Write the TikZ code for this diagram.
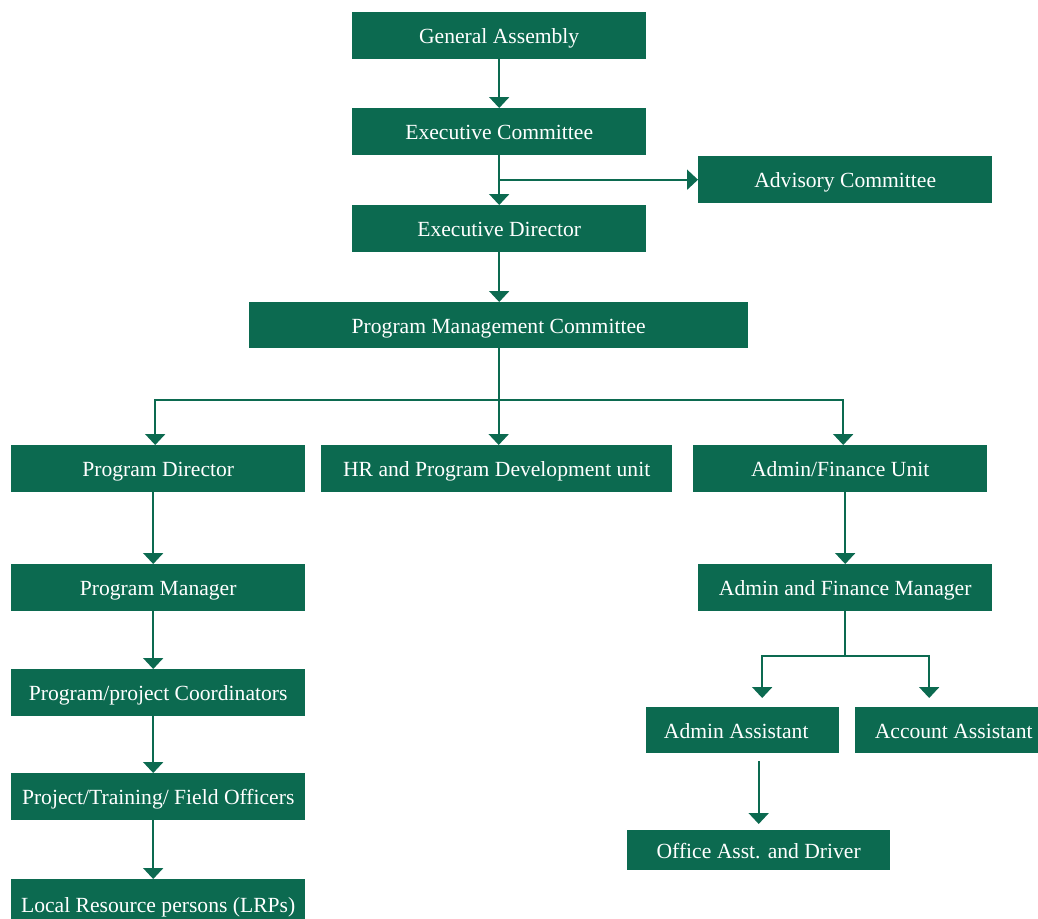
\documentclass[tikz,border=0pt]{standalone}
\usepackage{fontspec}
\setmainfont{Liberation Serif}
\usetikzlibrary{arrows.meta}
\definecolor{dgreen}{HTML}{0C6A50}
\begin{document}
\begin{tikzpicture}[x=1pt,y=-1pt,
  box/.style={fill=dgreen, text=white, font=\fontsize{21.6}{25}\selectfont, inner sep=0pt,
    text height=16pt, text depth=0pt, anchor=north west},
  conn/.style={draw=dgreen, line width=2pt, -{Triangle[width=20pt,length=11pt]}},
]
\useasboundingbox (0,0) rectangle (1038,918);
\fill[white] (0,0) rectangle (1038,918);

\node[box, minimum width=294pt, minimum height=47pt] (ga)  at (352,12)  {General Assembly};
\node[box, minimum width=294pt, minimum height=47pt] (ec)  at (352,108) {Executive Committee};
\node[box, minimum width=294pt, minimum height=47pt] (adv) at (698,156) {Advisory Committee};
\node[box, minimum width=294pt, minimum height=47pt] (ed)  at (352,205) {Executive Director};
\node[box, minimum width=499pt, minimum height=46pt] (pmc) at (249,302) {Program Management Committee};
\node[box, minimum width=294pt, minimum height=47pt] (pd)  at (11,445)  {Program Director};
\node[box, minimum width=351pt, minimum height=47pt] (hr)  at (321,445) {HR and Program Development unit};
\node[box, minimum width=294pt, minimum height=47pt] (afu) at (693,445) {Admin/Finance Unit};
\node[box, minimum width=294pt, minimum height=47pt] (pm)  at (11,564)  {Program Manager};
\node[box, minimum width=294pt, minimum height=47pt] (afm) at (698,564) {Admin and Finance Manager};
\node[box, minimum width=294pt, minimum height=47pt] (ppc) at (11,669)  {Program/project Coordinators};
\node[box, minimum width=193pt, minimum height=46pt] (aa)  at (646,707) {Admin Assistant\kern13pt\relax};
\node[box, minimum width=197pt, minimum height=46pt] (acc) at (855,707) {Account Assistant};
\node[box, minimum width=294pt, minimum height=47pt] (pto) at (11,773)  {Project/Training/ Field Officers};
\node[box, minimum width=263pt, minimum height=40pt] (off) at (627,830) {Office Asst. and Driver};
\node[box, minimum width=294pt, minimum height=50pt] (lrp) at (11,879)  {Local Resource persons (LRPs)};

\draw[conn] (ga.south) -- (ec.north);
\draw[conn] (ec.south) -- (ed.north);
\draw[conn] (ec.south |- adv.west) -- (adv.west);
\draw[conn] (ed.south) -- (ed.south |- pmc.north);
\draw[conn] (pmc.south) -- ++(0,52) -| ([xshift=-3pt]pd.north);
\draw[conn] (pmc.south) -- (pmc.south |- hr.north);
\draw[conn] (pmc.south) -- ++(0,52) -| ([xshift=3pt]afu.north);
\draw[conn] ([xshift=-5pt]pd.south) -- ([xshift=-5pt]pm.north);
\draw[conn] ([xshift=-5pt]pm.south) -- ([xshift=-5pt]ppc.north);
\draw[conn] ([xshift=-5pt]ppc.south) -- ([xshift=-5pt]pto.north);
\draw[conn] ([xshift=-5pt]pto.south) -- ([xshift=-5pt]lrp.north);
\draw[conn] (afm.north |- afu.south) -- (afm.north);
\draw[conn, shorten >=9pt] (afm.south) -- ++(0,45) -| ([xshift=19.5pt]aa.north);
\draw[conn, shorten >=9pt] (afm.south) -- ++(0,45) -| ([xshift=-24.5pt]acc.north);
\draw[conn, shorten <=8pt, shorten >=6pt] (off.north |- aa.south) -- (off.north);
\end{tikzpicture}
\end{document}
